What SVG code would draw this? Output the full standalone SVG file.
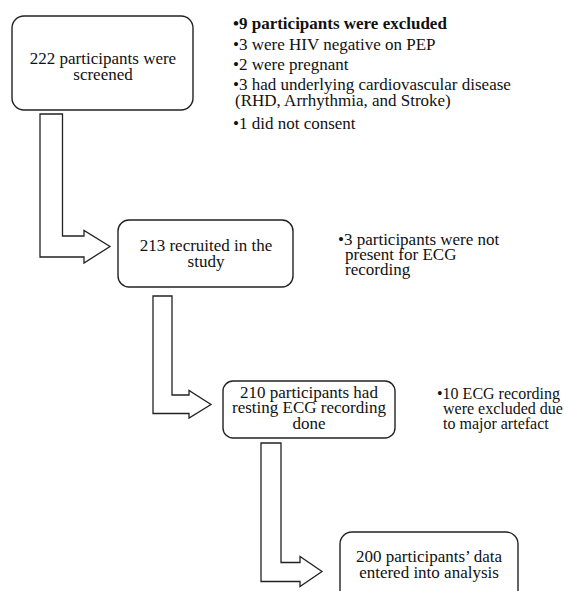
<svg xmlns="http://www.w3.org/2000/svg" width="564" height="591" viewBox="0 0 564 591">
<style>
.box{fill:#fff;stroke:#222;stroke-width:1.4}
.arr{fill:#fff;stroke:#222;stroke-width:1.3;stroke-linejoin:miter}
text{font-family:"Liberation Serif","Times New Roman",serif;font-size:17px;fill:#111}
.c{text-anchor:middle}
.b{font-weight:bold}
.s{font-size:16px}
</style>
<rect width="564" height="591" fill="#fff"/>
<g id="connectors">
<path class="arr" d="M40,114 H62.5 V236 H84 V230.5 L110,246.5 L84,263 V257 H40 Z"/>
<path class="arr" d="M153,296 H172 V395 H189 V390.5 L211,404.5 L189,418 V413.5 H153 Z"/>
<path class="arr" d="M261,443 H281 V562.5 H300 V556.5 L322,571.5 L300,586.5 V581.5 H261 Z"/>
</g>
<g id="node1">
<rect class="box" x="12" y="16" width="181" height="94" rx="12"/>
<text class="c" x="103" y="64">222 participants were</text>
<text class="c" x="103" y="80">screened</text>
</g>
<g id="node2">
<rect class="box" x="118" y="220" width="175" height="67" rx="11"/>
<text class="c" x="206" y="251">213 recruited in the</text>
<text class="c" x="206" y="267">study</text>
</g>
<g id="node3">
<rect class="box" x="223" y="381" width="172" height="57" rx="10"/>
<text class="c" x="309" y="398">210 participants had</text>
<text class="c" x="309" y="413">resting ECG recording</text>
<text class="c" x="309" y="429">done</text>
</g>
<g id="node4">
<rect class="box" x="340" y="532" width="178" height="80" rx="12"/>
<text class="c" x="429" y="562">200 participants’ data</text>
<text class="c" x="429" y="578">entered into analysis</text>
</g>
<g id="note1">
<text class="b" x="233" y="29">•9 participants were excluded</text>
<text x="233" y="50">•3 were HIV negative on PEP</text>
<text x="233" y="70">•2 were pregnant</text>
<text x="233" y="90">•3 had underlying cardiovascular disease</text>
<text x="235" y="106">(RHD, Arrhythmia, and Stroke)</text>
<text x="233" y="129">•1 did not consent</text>
</g>
<g id="note2">
<text x="338" y="245">•3 participants were not</text>
<text x="345" y="260">present for ECG</text>
<text x="345" y="275">recording</text>
</g>
<g id="note3">
<text class="s" x="437" y="399">•10 ECG recording</text>
<text class="s" x="443" y="414">were excluded due</text>
<text class="s" x="443" y="429">to major artefact</text>
</g>
</svg>
